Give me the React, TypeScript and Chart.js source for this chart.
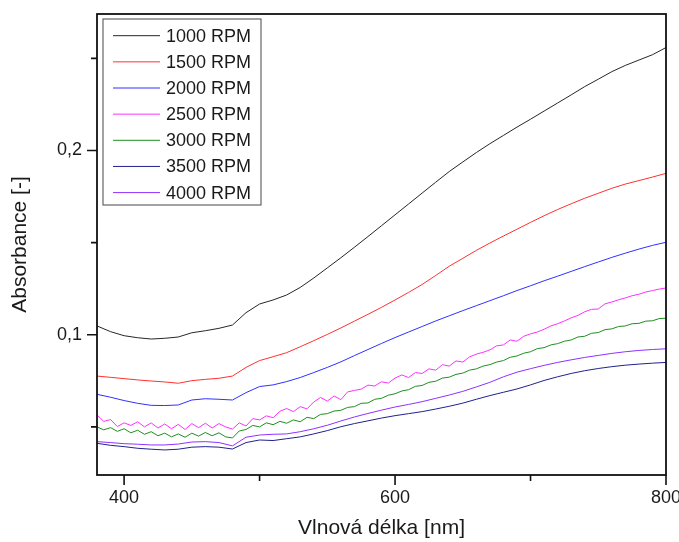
import React, { useEffect, useRef } from 'react';
import { Chart, registerables } from 'chart.js';

Chart.register(...registerables);

const wl10 = [380, 390, 400, 410, 420, 430, 440, 450, 460, 470, 480, 490, 500, 510, 520, 530, 540, 550, 560, 570, 580, 590, 600, 610, 620, 630, 640, 650, 660, 670, 680, 690, 700, 710, 720, 730, 740, 750, 760, 770, 780, 790, 800];

const wl5 = [380, 385, 390, 395, 400, 405, 410, 415, 420, 425, 430, 435, 440, 445, 450, 455, 460, 465, 470, 475, 480, 485, 490, 495, 500, 505, 510, 515, 520, 525, 530, 535, 540, 545, 550, 555, 560, 565, 570, 575, 580, 585, 590, 595, 600, 605, 610, 615, 620, 625, 630, 635, 640, 645, 650, 655, 660, 665, 670, 675, 680, 685, 690, 695, 700, 705, 710, 715, 720, 725, 730, 735, 740, 745, 750, 755, 760, 765, 770, 775, 780, 785, 790, 795, 800];

const rpm1000 = [0.1048, 0.1017, 0.0995, 0.0984, 0.0977, 0.0981, 0.0988, 0.1011, 0.1022, 0.1035, 0.1053, 0.1120, 0.1167, 0.1189, 0.1216, 0.1257, 0.1308, 0.1363, 0.1418, 0.1475, 0.1533, 0.1592, 0.1651, 0.1710, 0.1769, 0.1828, 0.1886, 0.1938, 0.1989, 0.2037, 0.2082, 0.2127, 0.2170, 0.2214, 0.2258, 0.2302, 0.2347, 0.2387, 0.2428, 0.2462, 0.2491, 0.2520, 0.2559];

const rpm1500 = [0.0776, 0.0769, 0.0762, 0.0755, 0.0749, 0.0744, 0.0737, 0.0751, 0.0758, 0.0764, 0.0776, 0.0823, 0.0860, 0.0881, 0.0903, 0.0935, 0.0968, 0.1002, 0.1037, 0.1074, 0.1111, 0.1149, 0.1189, 0.1230, 0.1273, 0.1322, 0.1372, 0.1415, 0.1458, 0.1498, 0.1536, 0.1573, 0.1610, 0.1646, 0.1680, 0.1711, 0.1741, 0.1768, 0.1795, 0.1818, 0.1837, 0.1856, 0.1876];

const rpm2000 = [0.0677, 0.0661, 0.0643, 0.0628, 0.0617, 0.0616, 0.0619, 0.0646, 0.0653, 0.0650, 0.0646, 0.0686, 0.0719, 0.0728, 0.0746, 0.0768, 0.0795, 0.0823, 0.0853, 0.0887, 0.0920, 0.0953, 0.0985, 0.1015, 0.1045, 0.1075, 0.1103, 0.1131, 0.1158, 0.1185, 0.1212, 0.1240, 0.1266, 0.1293, 0.1318, 0.1344, 0.1370, 0.1395, 0.1420, 0.1443, 0.1465, 0.1485, 0.1502];

const rpm2500 = [0.0565, 0.0530, 0.0540, 0.0502, 0.0522, 0.0508, 0.0528, 0.0500, 0.0522, 0.0494, 0.0516, 0.0490, 0.0514, 0.0486, 0.0518, 0.0496, 0.0520, 0.0494, 0.0518, 0.0500, 0.0488, 0.0522, 0.0505, 0.0545, 0.0538, 0.0560, 0.0550, 0.0585, 0.0600, 0.0583, 0.0610, 0.0598, 0.0635, 0.0660, 0.0640, 0.0668, 0.0648, 0.0690, 0.0698, 0.0705, 0.0727, 0.0722, 0.0745, 0.0738, 0.0765, 0.0782, 0.0768, 0.0795, 0.0790, 0.0815, 0.0808, 0.0838, 0.0830, 0.0858, 0.0852, 0.0880, 0.0895, 0.0905, 0.0918, 0.0940, 0.0945, 0.0972, 0.0965, 0.0992, 0.1005, 0.1015, 0.1030, 0.1048, 0.1060, 0.1075, 0.1092, 0.1105, 0.1125, 0.1138, 0.1140, 0.1168, 0.1178, 0.1190, 0.1200, 0.1212, 0.1220, 0.1232, 0.1240, 0.1248, 0.1254];

const rpm3000 = [0.0500, 0.0484, 0.0496, 0.0476, 0.0490, 0.0468, 0.0482, 0.0460, 0.0474, 0.0452, 0.0466, 0.0446, 0.0462, 0.0444, 0.0466, 0.0450, 0.0470, 0.0452, 0.0468, 0.0446, 0.0440, 0.0478, 0.0486, 0.0508, 0.0500, 0.0522, 0.0512, 0.0530, 0.0520, 0.0538, 0.0528, 0.0552, 0.0545, 0.0568, 0.0572, 0.0586, 0.0590, 0.0606, 0.0610, 0.0628, 0.0630, 0.0650, 0.0655, 0.0672, 0.0680, 0.0695, 0.0702, 0.0720, 0.0725, 0.0742, 0.0748, 0.0765, 0.0770, 0.0785, 0.0792, 0.0808, 0.0815, 0.0830, 0.0838, 0.0852, 0.0860, 0.0878, 0.0885, 0.0900, 0.0908, 0.0925, 0.0930, 0.0945, 0.0952, 0.0965, 0.0972, 0.0988, 0.0992, 0.1008, 0.1012, 0.1028, 0.1032, 0.1045, 0.1048, 0.1060, 0.1062, 0.1074, 0.1076, 0.1088, 0.1090];

const rpm3500 = [0.0411, 0.0400, 0.0393, 0.0384, 0.0379, 0.0375, 0.0379, 0.0390, 0.0393, 0.0390, 0.0380, 0.0415, 0.0429, 0.0426, 0.0436, 0.0446, 0.0462, 0.0480, 0.0501, 0.0518, 0.0533, 0.0548, 0.0561, 0.0572, 0.0583, 0.0597, 0.0612, 0.0629, 0.0650, 0.0670, 0.0688, 0.0706, 0.0728, 0.0752, 0.0772, 0.0790, 0.0805, 0.0817, 0.0827, 0.0835, 0.0841, 0.0846, 0.0850];

const rpm4000 = [0.0420, 0.0415, 0.0409, 0.0406, 0.0402, 0.0402, 0.0407, 0.0418, 0.0420, 0.0415, 0.0397, 0.0444, 0.0456, 0.0460, 0.0462, 0.0474, 0.0490, 0.0509, 0.0532, 0.0554, 0.0573, 0.0591, 0.0608, 0.0622, 0.0637, 0.0655, 0.0673, 0.0693, 0.0717, 0.0742, 0.0772, 0.0797, 0.0816, 0.0834, 0.0850, 0.0864, 0.0877, 0.0888, 0.0899, 0.0908, 0.0915, 0.0920, 0.0924];

const seriesLabels = ['1000 RPM', '1500 RPM', '2000 RPM', '2500 RPM', '3000 RPM', '3500 RPM', '4000 RPM'];
const seriesColors = ['#262626', '#ff3030', '#3030ff', '#ff30ff', '#1f8f1f', '#20208f', '#8f30ff'];

const xMajorTicks = [400, 600, 800];
const xMinorTicks = [500, 700];
const yMajorTicks = [0.1, 0.2];
const yTickLabels = ['0,1', '0,2'];
const yMinorTicks = [0.05, 0.15, 0.25];
const xTitle = 'Vlnová délka [nm]';
const yTitle = 'Absorbance [-]';

const FONT = 'Arial, "Liberation Sans", sans-serif';
const TEXT = '#1a1a1a';

const framePlugin = {
  id: 'originFrame',
  afterDatasetsDraw(chart: any) {
    const { ctx, chartArea: a, scales } = chart;
    const xs = scales.x;
    const ys = scales.y;
    ctx.save();
    ctx.strokeStyle = '#111';
    ctx.lineWidth = 1.6;
    ctx.beginPath();
    const drawTick = (x1: number, y1: number, x2: number, y2: number) => {
      ctx.moveTo(x1, y1);
      ctx.lineTo(x2, y2);
    };
    xMajorTicks.forEach((v) => {
      const px = xs.getPixelForValue(v);
      drawTick(px, a.bottom, px, a.bottom + 10);
    });
    xMinorTicks.forEach((v) => {
      const px = xs.getPixelForValue(v);
      drawTick(px, a.bottom, px, a.bottom + 6);
    });
    yMajorTicks.forEach((v) => {
      const py = ys.getPixelForValue(v);
      drawTick(a.left, py, a.left - 10, py);
    });
    yMinorTicks.forEach((v) => {
      const py = ys.getPixelForValue(v);
      drawTick(a.left, py, a.left - 6, py);
    });
    ctx.stroke();
    ctx.lineWidth = 1.8;
    ctx.strokeRect(a.left, a.top, a.right - a.left, a.bottom - a.top);
    ctx.restore();
  },
  afterDraw(chart: any) {
    const { ctx, chartArea: a } = chart;
    const left = a.left + 6;
    const top = a.top + 5;
    const w = 158;
    const h = 186;
    ctx.save();
    ctx.fillStyle = '#ffffff';
    ctx.fillRect(left, top, w, h);
    ctx.strokeStyle = '#666';
    ctx.lineWidth = 1.2;
    ctx.strokeRect(left, top, w, h);
    ctx.font = `18px ${FONT}`;
    ctx.textBaseline = 'middle';
    ctx.textAlign = 'left';
    chart.data.datasets.forEach((ds: any, i: number) => {
      const y = top + 16.7 + i * 26.15;
      ctx.strokeStyle = ds.borderColor;
      ctx.lineWidth = 1;
      ctx.beginPath();
      ctx.moveTo(left + 10, y);
      ctx.lineTo(left + 57, y);
      ctx.stroke();
      ctx.fillStyle = TEXT;
      ctx.fillText(ds.label, left + 63, y + 1);
    });
    ctx.restore();
  },
};

export default function App() {
  const canvasRef = useRef<HTMLCanvasElement | null>(null);

  useEffect(() => {
    if (!canvasRef.current) return;
    const series = [rpm1000, rpm1500, rpm2000, rpm2500, rpm3000, rpm3500, rpm4000];
    const xsFor = [wl10, wl10, wl10, wl5, wl5, wl10, wl10];
    const chart = new Chart(canvasRef.current, {
      type: 'line',
      data: {
        datasets: series.map((vals, i) => ({
          label: seriesLabels[i],
          data: vals.map((v, j) => ({ x: xsFor[i][j], y: v })),
          borderColor: seriesColors[i],
          backgroundColor: seriesColors[i],
          borderWidth: 1,
          pointRadius: 0,
          tension: 0,
          fill: false,
        })),
      },
      options: {
        animation: false,
        responsive: true,
        maintainAspectRatio: false,
        layout: { padding: { top: 14, right: 13, left: 0, bottom: 0 } },
        plugins: { legend: { display: false }, tooltip: { enabled: false } },
        scales: {
          x: {
            type: 'linear',
            min: 380,
            max: 800,
            grid: { display: false },
            border: { display: false },
            afterBuildTicks: (axis: any) => {
              axis.ticks = xMajorTicks.map((v) => ({ value: v }));
            },
            afterFit: (axis: any) => {
              axis.height = 67;
              axis.paddingLeft = 0;
              axis.paddingRight = 0;
            },
            ticks: {
              padding: 4,
              color: TEXT,
              font: { family: FONT, size: 18 },
              maxRotation: 0,
              callback: (v: any) => String(v),
            },
            title: {
              display: true,
              text: xTitle,
              color: TEXT,
              font: { family: FONT, size: 21 },
              padding: { top: 0, bottom: 1 },
            },
          },
          y: {
            type: 'linear',
            min: 0.0239,
            max: 0.2741,
            grid: { display: false, drawTicks: false },
            border: { display: false },
            afterBuildTicks: (axis: any) => {
              axis.ticks = yMajorTicks.map((v) => ({ value: v }));
            },
            afterFit: (axis: any) => {
              axis.width = 97;
              axis.paddingTop = 0;
              axis.paddingBottom = 0;
            },
            ticks: {
              padding: 15,
              color: TEXT,
              font: { family: FONT, size: 18 },
              callback: (v: any) => {
                const idx = yMajorTicks.findIndex((t) => Math.abs(t - Number(v)) < 1e-9);
                return idx >= 0 ? yTickLabels[idx] : '';
              },
            },
            title: {
              display: true,
              text: yTitle,
              color: TEXT,
              font: { family: FONT, size: 21 },
              padding: { top: 8, bottom: 0 },
            },
          },
        },
      },
      plugins: [framePlugin],
    });
    return () => chart.destroy();
  }, []);

  return (
    <div style={{ position: 'fixed', left: 0, top: 0, width: 679, height: 542, background: '#fff' }}>
      <canvas ref={canvasRef} />
    </div>
  );
}
